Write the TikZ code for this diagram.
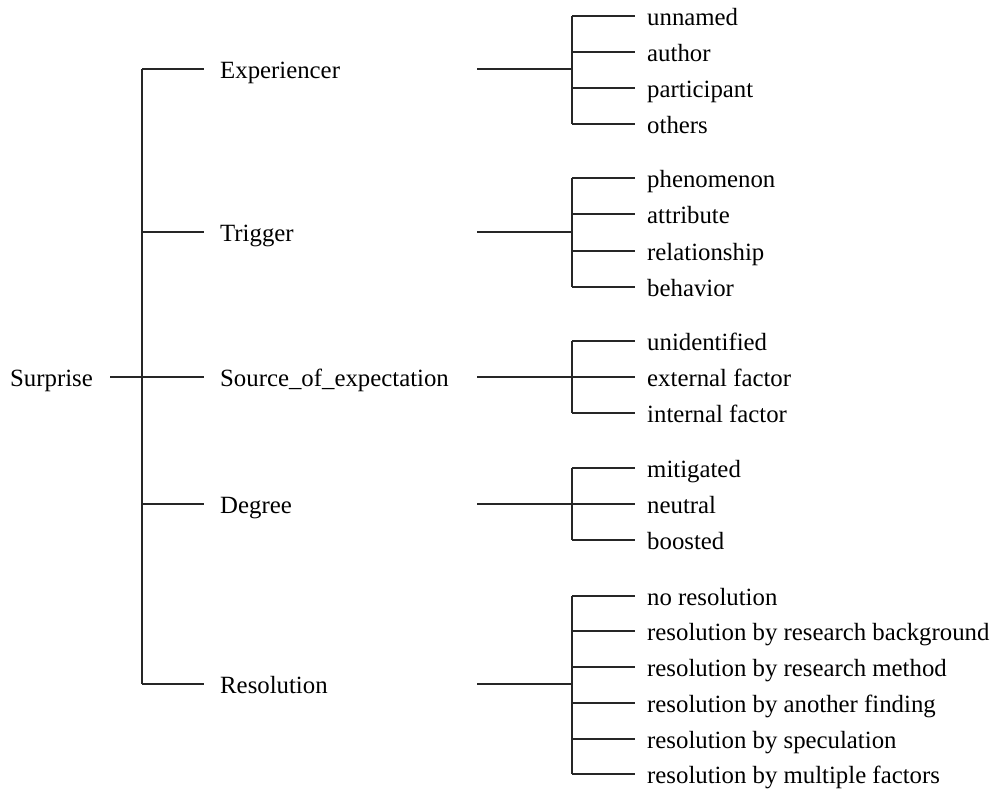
\documentclass[tikz,border=0pt]{standalone}
\usepackage{fontspec}
\setmainfont{Liberation Serif}
\begin{document}
\begin{tikzpicture}[x=1pt,y=-1pt,
  lbl/.style={anchor=west,inner sep=0pt,font=\fontsize{24.8}{29}\selectfont,text height=19pt,text depth=0pt},
  conn/.style={line width=1.1pt,draw=black!85}]
\useasboundingbox[fill=white] (0,0) rectangle (993,792);
% guide coordinates
\coordinate (spine) at (142,0);
\coordinate (s2) at (477,0);
\coordinate (j2) at (572,0);
% root and level 1
\node[lbl] (root) at (10,377) {Surprise};
\node[lbl] (exp) at (220,69) {Experiencer};
\node[lbl] (trig) at (220,232) {Trigger};
\node[lbl] (src) at (220,377) {Source\_of\_expectation};
\node[lbl] (deg) at (220,504) {Degree};
\node[lbl] (res) at (220,684) {Resolution};
% level 2
\node[lbl] (e1) at (647,16) {unnamed};
\node[lbl] (e2) at (647,52) {author};
\node[lbl] (e3) at (647,88) {participant};
\node[lbl] (e4) at (647,124) {others};
\node[lbl] (t1) at (647,178) {phenomenon};
\node[lbl] (t2) at (647,214) {attribute};
\node[lbl] (t3) at (647,251) {relationship};
\node[lbl] (t4) at (647,287) {behavior};
\node[lbl] (u1) at (647,341) {unidentified};
\node[lbl] (u2) at (647,377) {external factor};
\node[lbl] (u3) at (647,413) {internal factor};
\node[lbl] (d1) at (647,468) {mitigated};
\node[lbl] (d2) at (647,504) {neutral};
\node[lbl] (d3) at (647,540) {boosted};
\node[lbl] (r1) at (647,596) {no resolution};
\node[lbl] (r2) at (647,631) {resolution by research background};
\node[lbl] (r3) at (647,667) {resolution by research method};
\node[lbl] (r4) at (647,703) {resolution by another finding};
\node[lbl] (r5) at (647,739) {resolution by speculation};
\node[lbl] (r6) at (647,774) {resolution by multiple factors};
% level-1 connectors
\draw[conn] ([xshift=17pt]root.east) -- ([xshift=-16pt]src.west);
\draw[conn] (spine |- exp.west) -- (spine |- res.west);
\foreach \n in {exp,trig,deg,res}
  \draw[conn] (spine |- \n.west) -- ([xshift=-16pt]\n.west);
% level-2 connectors
\foreach \p/\first/\last/\kids in {exp/e1/e4/{e1,e2,e3,e4},trig/t1/t4/{t1,t2,t3,t4},src/u1/u3/{u1,u2,u3},deg/d1/d3/{d1,d2,d3},res/r1/r6/{r1,r2,r3,r4,r5,r6}}{
  \draw[conn] (s2 |- \p.west) -- (j2 |- \p.west);
  \draw[conn] (j2 |- \first.west) -- (j2 |- \last.west);
  \foreach \k in \kids
    \draw[conn] (j2 |- \k.west) -- ([xshift=-12pt]\k.west);
}
\end{tikzpicture}
\end{document}
